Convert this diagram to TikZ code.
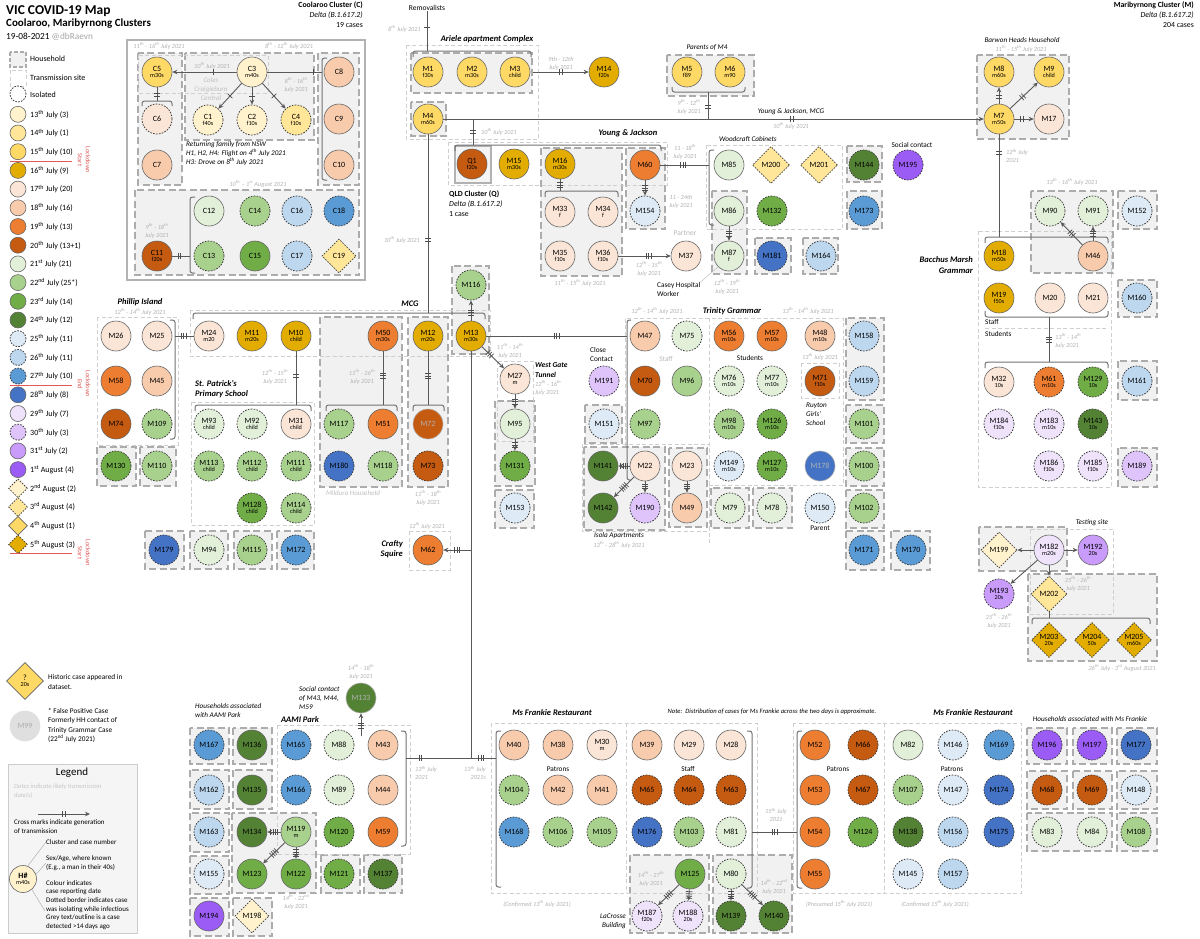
\documentclass[tikz,border=0pt]{standalone}
\usepackage{fontspec}
\setmainfont{Carlito}
\usetikzlibrary{shapes.geometric,arrows.meta,decorations.markings}
\definecolor{c13}{HTML}{FFF2CC}
\definecolor{c14}{HTML}{FFE699}
\definecolor{c15}{HTML}{FFD966}
\definecolor{c16}{HTML}{E2AC00}
\definecolor{c17}{HTML}{FBE5D6}
\definecolor{c18}{HTML}{F8CBAD}
\definecolor{c19}{HTML}{ED7D31}
\definecolor{c20}{HTML}{C55A11}
\definecolor{c21}{HTML}{E2F0D9}
\definecolor{c22}{HTML}{A9D18E}
\definecolor{c23}{HTML}{70AD47}
\definecolor{c24}{HTML}{548235}
\definecolor{c25}{HTML}{DEEBF7}
\definecolor{c26}{HTML}{BDD7EE}
\definecolor{c27}{HTML}{5B9BD5}
\definecolor{c28}{HTML}{4472C4}
\definecolor{c29}{HTML}{EFE3FB}
\definecolor{c30}{HTML}{DEC4FA}
\definecolor{c31}{HTML}{C99BFA}
\definecolor{a1}{HTML}{9B5CF6}
\definecolor{a2}{HTML}{FFF2CC}
\definecolor{a3}{HTML}{FFE699}
\definecolor{a4}{HTML}{FFD966}
\definecolor{a5}{HTML}{E2AC00}
\definecolor{lred}{HTML}{E05A5A}
\newcommand\fnA{\fontsize{8}{9}\selectfont}
\newcommand\fnB{\fontsize{6.2}{6.8}\selectfont}
\newcommand\fnC{\fontsize{6.3}{8}\selectfont\itshape}
\newcommand\xth{\textsuperscript{th}}
\newcommand\xst{\textsuperscript{st}}
\newcommand\xnd{\textsuperscript{nd}}
\newcommand\xrd{\textsuperscript{rd}}
\newcounter{txn}
\newcommand\Tx[3][]{\stepcounter{txn}\node[#1] (tx\arabic{txn}) at (#2) {#3};}
\newcommand\Cn[4][]{\def\tmpsub{#4}\ifx\tmpsub\empty\node[cs,#1] (#2) at (#3) {#2};\else\node[cs,#1] (#2) at (#3) {#2\\[-2.5pt]{\fnB #4}};\fi}
\newcommand\Dn[4][]{\def\tmpsub{#4}\ifx\tmpsub\empty\node[dm,#1] (#2) at (#3) {#2};\else\node[dm,#1] (#2) at (#3) {#2\\[-2.5pt]{\fnB #4}};\fi}
\newcommand\LG[4]{\node[cs,minimum size=16pt,#2] (lg#1) at (18,#3) {}; \node[lbl,anchor=west] (lt#1) at (30,#3) {#4};}
\newcommand\LD[4]{\node[dm,minimum size=19pt,#2] (lg#1) at (18,#3) {}; \node[lbl,anchor=west] (lt#1) at (30,#3) {#4};}
\begin{document}
\begin{tikzpicture}[x=1pt,y=-1pt,
  cs/.style={circle,draw=black!60,line width=0.6pt,minimum size=30pt,inner sep=0pt,align=center,font=\fnA},
  dm/.style={diamond,aspect=1,draw=black!60,line width=0.6pt,minimum size=37pt,inner sep=0pt,align=center,font=\fnA},
  iso/.style={dash pattern=on 1.6pt off 1.3pt,line width=0.8pt,draw=black!75},
  old/.style={text=gray!60,draw=gray!60},
  f13/.style={fill=c13},f14/.style={fill=c14},f15/.style={fill=c15},f16/.style={fill=c16},
  f17/.style={fill=c17},f18/.style={fill=c18},f19/.style={fill=c19},f20/.style={fill=c20},
  f21/.style={fill=c21},f22/.style={fill=c22},f23/.style={fill=c23},f24/.style={fill=c24},
  f25/.style={fill=c25},f26/.style={fill=c26},f27/.style={fill=c27},f28/.style={fill=c28},
  f29/.style={fill=c29},f30/.style={fill=c30},f31/.style={fill=c31},
  fa1/.style={fill=a1},fa2/.style={fill=a2},fa3/.style={fill=a3},fa4/.style={fill=a4},fa5/.style={fill=a5},
  hh/.style={draw=gray!65,fill=gray!11,line width=1.7pt,dash pattern=on 7pt off 3.5pt},
  site/.style={draw=gray!38,line width=0.9pt,dash pattern=on 4pt off 2.5pt},
  con/.style={draw=black!65,line width=0.9pt},
  arr/.style={con,-{Stealth[length=5pt,width=4.5pt]}},
  br/.style={draw=black!55,line width=1pt,rounded corners=2.5pt},
  tkl/.style={-,solid,draw=black!70,line width=0.7pt},
  g1/.style={postaction={decorate,decoration={markings,mark=at position #1 with {\draw[tkl] (0,-3.2) -- (0,3.2);}}}},
  g2/.style={postaction={decorate,decoration={markings,mark=at position #1 with {\draw[tkl] (-1.3,-3.2) -- (-1.3,3.2) (1.3,-3.2) -- (1.3,3.2);}}}},
  g3/.style={postaction={decorate,decoration={markings,mark=at position #1 with {\draw[tkl] (-2.4,-3.2) -- (-2.4,3.2) (0,-3.2) -- (0,3.2) (2.4,-3.2) -- (2.4,3.2);}}}},
  g4/.style={postaction={decorate,decoration={markings,mark=at position #1 with {\draw[tkl] (-3.3,-3.2) -- (-3.3,3.2) (-1.1,-3.2) -- (-1.1,3.2) (1.1,-3.2) -- (1.1,3.2) (3.3,-3.2) -- (3.3,3.2);}}}},
  dt/.style={font=\fnC,text=gray!60,align=center,inner sep=0pt},
  lbl/.style={font=\fontsize{8}{9.5}\selectfont,inner sep=0pt,align=left},
  ttl/.style={font=\bfseries\itshape\fontsize{8.5}{10.5}\selectfont,inner sep=0pt,align=center},
  itx/.style={font=\itshape\fontsize{7.2}{9}\selectfont,inner sep=0pt,align=center},
  sm/.style={font=\fontsize{7.3}{9}\selectfont,inner sep=0pt,align=center}]
\useasboundingbox (0,0) rectangle (1200,938);
\fill[white] (0,0) rectangle (1200,938);

% ---------- boxes ----------
\draw[draw=gray!60,line width=1.8pt] (127,40) rectangle (365,280);
\foreach \a/\b/\c/\d in {138/53/182/185,185/53/314/140,318/53/359/185,135/190/359/275,
 411/53/532/93,411/102/446/136,667/55/754/96,977/55/1069/139,541/148/622/276,626/148/665/229,
 712/191/747/274,847/146/882/182,847/191/882/229,755/238/791/274,803/238/838/274,
 1031/191/1113/273,1118/191/1157/229,1118/280/1157/317,1118/361/1157/400,1118/448/1157/487,
 979/527/1067/571,1028/574/1157/661,1027/728/1067/764,1073/728/1112/764,1117/728/1157/764,
 1027/771/1067/809,1073/771/1112/809,1117/771/1157/809,1027/813/1112/851,1117/813/1157/851,
 630/855/709/933,713/855/792/933,190/728/229/764,233/728/272/764,190/770/229/809,233/770/272/809,
 190/813/229/852,232/813/316/893,190/856/229/894,190/898/229/936,233/898/272/936,321/855/360/893,
 364/855/402/893,452/266/489/354,320/317/402/487,408/317/448/487,97/447/136/486,140/447/176/486,
 495/401/535/486,495/490/534/528,145/531/184/569,190/531/228/569,234/531/272/569,277/531/314/569,
 846/318/884/400,846/405/884/443,846/448/884/486,846/490/884/528,846/531/884/570,891/531/930/570,
 585/405/622/443,584/447/665/530,669/448/707/527,711/488/749/528,753/488/792/528}
 \draw[hh] (\a,\b) rectangle (\c,\d);
\draw[draw=gray!60,line width=1.5pt,fill=gray!8] (455,146) rectangle (491,183);
\foreach \a/\b/\c/\d in {138/55/268/93,406/45/538/139,448/142/667/185,706/145/842/229,
 978/231/1111/487,1030/529/1113/614,793/723/1021/893,491/723/757/893,277/725/410/854,
 190/310/490/356,97/317/178/445,497/361/533/441,409/531/450/570,191/402/314/525,
 801/363/839/398,582/444/709/531}
 \draw[site] (\a,\b) rectangle (\c,\d);
\draw[site] (625,446) -- (625,318) -- (843,318) -- (843,485) -- (709,485);
\draw[site] (709,318) -- (709,545);
\draw[site] (985,328) -- (1108,328);
\draw[site] (626,723) -- (626,893);
\draw[site] (884,723) -- (884,893);

% ---------- braces ----------
\draw[br] (142,106) -- (142,101) -- (172,101) -- (172,106);
\draw[br] (327,58) -- (322,58) -- (322,180) -- (327,180);
\draw[br] (195,197) -- (190,197) -- (190,273) -- (195,273);
\draw[br] (413,57) -- (413,51) -- (531,51) -- (531,57);
\draw[br] (455,151) -- (455,145) -- (661,145) -- (661,151);
\draw[br] (672,87) -- (672,92) -- (745,92) -- (745,87);
\draw[br] (985,243) -- (985,237) -- (1108,237) -- (1108,243);
\draw[br] (985,311) -- (985,317) -- (1108,317) -- (1108,311);
\draw[br] (985,368) -- (985,362) -- (1108,362) -- (1108,368);
\draw[br] (1032,624) -- (1032,618) -- (1150,618) -- (1150,624);
\draw[br] (545,197) -- (545,191) -- (618,191) -- (618,197);
\draw[br] (714,150) -- (709,150) -- (709,225) -- (714,225);
\draw[br] (193,319) -- (193,313) -- (485,313) -- (485,319);
\draw[br] (170,320) -- (175,320) -- (175,439) -- (170,439);
\draw[br] (195,411) -- (195,405) -- (311,405) -- (311,411);
\draw[br] (326,411) -- (326,405) -- (397,405) -- (397,411);
\draw[br] (413,411) -- (413,405) -- (444,405) -- (444,411);
\draw[br] (631,320) -- (627,320) -- (627,480) -- (631,480);
\draw[br] (401,731) -- (406,731) -- (406,846) -- (401,846);
\draw[br] (501,731) -- (496,731) -- (496,887) -- (501,887);
\draw[br] (747,731) -- (752,731) -- (752,888) -- (747,888);
\draw[br] (802,731) -- (797,731) -- (797,888) -- (802,888);

% ---------- legend (left) ----------
\Tx[anchor=west,inner sep=0,font=\bfseries\fontsize{13.5}{15}\selectfont]{6,11}{VIC COVID-19 Map}
\Tx[anchor=west,inner sep=0,font=\bfseries\fontsize{11}{13}\selectfont]{6,24}{Coolaroo, Maribyrnong Clusters}
\Tx[anchor=west,inner sep=0,font=\fontsize{9.3}{11}\selectfont]{6,37}{19-08-2021 \textcolor{gray!70}{@dbRaevn}}
\draw[hh,line width=1.3pt,dash pattern=on 4pt off 2pt] (10,52) rectangle (26,67);
\draw[site] (10,70) rectangle (26,86);
\node[cs,iso,fill=white,minimum size=16pt] (lgiso) at (18,94) {};
\Tx[lbl,anchor=west]{30,59}{Household}
\Tx[lbl,anchor=west]{30,78}{Transmission site}
\Tx[lbl,anchor=west]{30,95}{Isolated}
\LG{1}{f13}{114.3}{13\xth{} July (3)}
\LG{2}{f14}{133}{14\xth{} July (1)}
\LG{3}{f15}{151.7}{15\xth{} July (10)}
\LG{4}{f16}{170.4}{16\xth{} July (9)}
\LG{5}{f17}{189.1}{17\xth{} July (20)}
\LG{6}{f18}{207.8}{18\xth{} July (16)}
\LG{7}{f19}{226.5}{19\xth{} July (13)}
\LG{8}{f20}{245.2}{20\xth{} July (13+1)}
\LG{9}{f21}{263.9}{21\xst{} July (21)}
\LG{10}{f22}{282.6}{22\xnd{} July (25*)}
\LG{11}{f23}{301.3}{23\xrd{} July (14)}
\LG{12}{f24}{320}{24\xth{} July (12)}
\LG{13}{f25,iso}{338.7}{25\xth{} July (11)}
\LG{14}{f26,iso}{357.4}{26\xth{} July (11)}
\LG{15}{f27,iso}{376.1}{27\xth{} July (10)}
\LG{16}{f28}{394.8}{28\xth{} July (8)}
\LG{17}{f29}{413.5}{29\xth{} July (7)}
\LG{18}{f30,iso}{432.2}{30\xth{} July (3)}
\LG{19}{f31}{450.9}{31\xst{} July (2)}
\LG{20}{fa1}{469.6}{1\xst{} August (4)}
\LD{21}{fa2,iso}{488.3}{2\xnd{} August (2)}
\LD{22}{fa3,iso}{507}{3\xrd{} August (4)}
\LD{23}{fa4}{525.7}{4\xth{} August (1)}
\LD{24}{fa5,iso}{544.4}{5\xth{} August (3)}
\draw[lred,line width=0.8pt] (10,161) -- (72,161);
\draw[lred,line width=0.8pt] (10,385) -- (72,385);
\draw[lred,line width=0.8pt] (10,553) -- (72,553);
\Tx[rotate=-90,text=lred,font=\fontsize{6.5}{8}\selectfont,align=center,inner sep=0]{84,160}{Lockdown\\Start}
\Tx[rotate=-90,text=lred,font=\fontsize{6.5}{8}\selectfont,align=center,inner sep=0]{84,384}{Lockdown\\End}
\Tx[rotate=-90,text=lred,font=\fontsize{6.5}{8}\selectfont,align=center,inner sep=0]{84,553}{Lockdown\\Start}

\node[dm,fa4,minimum size=37pt] (hist) at (25,681) {?\\[-2.5pt]{\fnB 20s}};
\Tx[lbl,anchor=west,font=\fontsize{7.3}{9.5}\selectfont]{48,682}{Historic case appeared in\\dataset.}
\node[cs,fill=gray!25,draw=gray!25,text=gray!65] (m99) at (25,726) {M99};
\Tx[lbl,anchor=north west,font=\fontsize{7.3}{9.5}\selectfont]{48,708}{* False Positive Case\\Formerly HH contact of\\Trinity Grammar Case\\(22\xnd{} July 2021)}

\draw[draw=gray!40,fill=gray!8,line width=0.8pt] (8,764) rectangle (137,933);
\Tx[inner sep=0,font=\fontsize{11}{13}\selectfont]{72,773}{Legend}
\Tx[dt,anchor=north west,align=left,font=\fontsize{6.5}{8.5}\selectfont\itshape,text=gray!45]{14,784}{Dates indicate likely transmission\\date(s)}
\coordinate (la1) at (38,814);
\coordinate (la2) at (90,814);
\draw[arr,g2=0.5] (la1) -- (la2);
\Tx[lbl,anchor=north west,font=\fontsize{7}{9}\selectfont]{14,819}{Cross marks indicate generation\\of transmission}
\node[cs,f13,minimum size=27pt] (hx) at (23,879) {\textbf{H\#}\\[-2.5pt]{\fnB m40s}};
\node[lbl,anchor=west,font=\fontsize{7}{8.7}\selectfont] (lgA) at (46,842) {Cluster and case number};
\node[lbl,anchor=west,font=\fontsize{7}{8.7}\selectfont] (lgB) at (46,863) {Sex/Age, where known\\(E.g., a man in their 40s)};
\node[lbl,anchor=north west,font=\fontsize{7}{8.7}\selectfont] (lgC) at (46,880) {Colour indicates\\case reporting date\\Dotted border indicates case\\was isolating while infectious\\Grey text/outline is a case\\detected >14 days ago};
\coordinate (lcx) at (45,911);
\draw[gray!60,line width=0.5pt] (hx.70) -- (lgA.west);
\draw[gray!60,line width=0.5pt] (hx.20) -- (lgB.west);
\draw[gray!60,line width=0.5pt] (hx.-50) -- (lcx);

% ---------- Coolaroo cluster ----------
\Tx[anchor=north east,align=right,inner sep=0,font=\fontsize{7.8}{10}\selectfont]{363,2}{\textbf{Coolaroo Cluster (C)}\\\textit{Delta (B.1.617.2)}\\19 cases}
\Tx[dt]{159,46}{11\xth{} - 16\xth{} July 2021}
\Tx[dt]{289,46}{8\xth{} - 12\xth{} July 2021}
\Tx[dt]{212,66}{10\xth{} July 2021}
\Tx[dt]{296,85}{8\xth{} - 16\xth{}\\July 2021}
\Tx[dt,font=\fontsize{7}{9}\selectfont\itshape,text=gray!50]{211,89}{Coles\\Craigieburn\\Central}
\Tx[anchor=north west,align=left,inner sep=0,font=\itshape\fontsize{7.2}{9}\selectfont]{186,141}{Returning family from NSW\\H1, H2, H4: Flight on 4\xth{} July 2021\\H3: Drove on 8\xth{} July 2021}
\Tx[dt]{258,184}{10\xth{} – 1\xst{} August 2021}
\Tx[dt]{157,231}{9\xth{} - 18\xth{}\\July 2021}
\Cn[f13]{C3}{252,72}{m40s}
\Cn[f15]{C5}{157,72}{m30s}
\Cn[f13,iso]{C1}{208,120}{f40s}
\Cn[f13,iso]{C2}{252,120}{f10s}
\Cn[f14,iso]{C4}{296,120}{f10s}
\Cn[f17,iso]{C6}{157,119}{}
\Cn[f18]{C7}{157,165}{}
\Cn[f18]{C8}{339,72}{}
\Cn[f18]{C9}{339,119}{}
\Cn[f18]{C10}{339,165}{}
\Cn[f20]{C11}{157,256}{f20s}
\Cn[f21]{C12}{209,211}{}
\Cn[f22,iso]{C14}{255,211}{}
\Cn[f26,iso]{C16}{297,211}{}
\Cn[f27,iso]{C18}{339,211}{}
\Cn[f22,iso]{C13}{209,256}{}
\Cn[f23]{C15}{255,256}{}
\Cn[f26,iso]{C17}{297,256}{}
\Dn[fa3,iso,minimum size=34pt]{C19}{339,256}{}
\coordinate (bC8) at (322,72);
\coordinate (bC6) at (157,101);
\coordinate (bC12) at (190,256);
\draw[arr,g1=0.37] (C3) -- (C5);
\draw[con,g1=0.84] (C3) -- (bC8);
\draw[arr,g1=0.5] (C3) -- (C1);
\draw[arr,g1=0.5] (C3) -- (C2);
\draw[arr,g1=0.5] (C3) -- (C4);
\draw[con,g2=0.55] (C5) -- (bC6);
\draw[con,g2=0.4] (C11) -- (bC12);

% ---------- Ariele / top ----------
\node[sm,font=\fontsize{7.5}{9}\selectfont] (rem) at (427,8) {Removalists};
\coordinate (bAr) at (427,51);
\draw[con,g1=0.4] (rem) -- (bAr);
\Tx[dt,anchor=east]{421,29}{8\xth{} July 2021}
\Tx[ttl]{487,39}{Ariele apartment Complex}
\Cn[f15]{M1}{428,72}{f30s}
\Cn[f15]{M2}{472,72}{m30s}
\Cn[f15]{M3}{515,72}{child}
\Cn[f15]{M4}{428,119}{m60s}
\Cn[f16]{M14}{604,72}{f20s}
\coordinate (hhM3) at (533,72);
\draw[arr,g2=0.5] (hhM3) -- (M14);
\Tx[dt]{561,64}{9th - 12th\\July 2021}
\Tx[itx]{707,47}{Parents of M4}
\Cn[f15]{M5}{687,72}{f89}
\Cn[f15]{M6}{730,72}{m90}
\Tx[dt]{689,107}{9\xth{} - 12\xth{}\\July 2021}
\Tx[itx]{791,112}{Young \& Jackson, MCG}
\Tx[dt]{791,126}{10\xth{} July 2021}
\Tx[itx]{1022,40}{Barwon Heads Household}
\Tx[dt]{1021,49}{11\xth{} - 15\xth{} July 2021}
\Tx[anchor=north east,align=right,inner sep=0,font=\fontsize{7.8}{10}\selectfont]{1194,2}{\textbf{Maribyrnong Cluster (M)}\\\textit{Delta (B.1.617.2)}\\204 cases}
\Cn[f15]{M8}{999,72}{m60s}
\Cn[f15]{M9}{1049,72}{child}
\Cn[f15]{M7}{999,119}{m50s}
\Cn[f17]{M17}{1049,119}{}
\draw[arr,g2=0.645] (M4) -- (M7);
\coordinate (pb) at (708,92);
\coordinate (pl) at (708,119);
\draw[con,g2=0.55] (pb) -- (pl);
\draw[arr,g2=0.4] (M7) -- (M8);
\draw[arr,g2=0.45] (M7) -- (M9);
\draw[arr,g2=0.4] (M7) -- (M17);

% ---------- Young & Jackson ----------
\coordinate (yj) at (473,119);
\coordinate (yjb) at (473,145);
\draw[con,g2=0.5] (yj) -- (yjb);
\Tx[dt]{499,132}{10\xth{} July 2021}
\Tx[ttl]{628,133}{Young \& Jackson}
\Cn[f20]{Q1}{472,164}{f20s}
\Cn[f16]{M15}{514,164}{m30s}
\Cn[f16]{M16}{560,164}{m30s}
\Cn[f19]{M60}{645,165}{}
\Cn[f25,iso]{M154}{645,211}{}
\Cn[f17]{M33}{560,212}{f}
\Cn[f17]{M34}{603,212}{f}
\Cn[f17]{M35}{560,256}{f10s}
\Cn[f17]{M36}{603,256}{f10s}
\Cn[f17]{M37}{686,256}{}
\Tx[anchor=north west,align=left,inner sep=0,font=\fontsize{7.8}{10}\selectfont]{449,191}{\textbf{QLD Cluster (Q)}\\\textit{Delta (B.1.617.2)}\\1 case}
\coordinate (b16) at (560,191);
\draw[con,g3=0.5] (M16) -- (b16);
\draw[arr,g3=0.58] (M36) -- (M37);
\Tx[dt]{580,283}{11\xth{} - 15\xth{} July 2021}
\Tx[dt]{649,269}{12\xth{} - 15\xth{}\\July 2021}
\Tx[sm,text=gray!55,font=\fontsize{7.5}{9}\selectfont]{685,233}{Partner}
\draw[arr,g3=0.5] (M60) -- (M154);
\Tx[dt]{681,202}{11 - 24th\\July 2021}
\coordinate (bwc) at (709,165);
\draw[con,g3=0.47] (M60) -- (bwc);
\Tx[dt]{685,152}{11 - 18\xth{}\\July 2021}

% ---------- Woodcraft ----------
\Tx[itx]{748,139}{Woodcraft Cabinets}
\Cn[f21]{M85}{729,165}{}
\Dn[fa3,iso]{M200}{771,165}{}
\Dn[fa3,iso]{M201}{819,165}{}
\Cn[f24,iso]{M144}{864,165}{}
\Cn[fa1,iso]{M195}{908,165}{}
\Tx[sm]{912,145}{Social contact}
\Cn[f21]{M86}{729,211}{}
\Cn[f23,iso]{M132}{772,211}{}
\Cn[f27,iso]{M173}{864,211}{}
\Cn[f21]{M87}{729,256}{f}
\Cn[f28,iso]{M181}{772,256}{}
\Cn[f26,iso]{M164}{821,256}{}
\draw[arr,g3=0.5] (M86) -- (M87);
\node[sm,anchor=north west,align=left] (casey) at (657,282) {Casey Hospital\\Worker};
\draw[gray!50,line width=0.5pt] (casey.north east) -- (M87.south west);
\Tx[dt]{727,287}{12\xth{} - 19\xth{}\\July 2021}

% ---------- Bacchus Marsh ----------
\coordinate (bbm) at (999,237);
\draw[con,g2=0.18] (M7) -- (bbm);
\Tx[dt,anchor=west,align=left]{1006,156}{12\xth{} July\\2021}
\Tx[dt]{1072,182}{13\xth{} - 16\xth{} July 2021}
\Tx[ttl,anchor=east,align=right]{973,265}{Bacchus Marsh\\Grammar}
\Cn[f21,iso]{M90}{1050,211}{}
\Cn[f21,iso]{M91}{1093,211}{}
\Cn[f25,iso]{M152}{1137,211}{}
\Cn[f16]{M18}{999,256}{m50s}
\Cn[f18]{M46}{1093,256}{}
\Cn[f16]{M19}{999,298}{f50s}
\Cn[f17]{M20}{1050,298}{}
\Cn[f17]{M21}{1093,298}{}
\Cn[f26,iso]{M160}{1137,298}{}
\draw[arr,g3=0.5] (M46) -- (M90);
\draw[arr,g3=0.5] (M46) -- (M91);
\Tx[sm,anchor=west]{985,322}{Staff}
\Tx[sm,anchor=west]{985,334}{Students}
\coordinate (sb1) at (1049,317);
\coordinate (sb2) at (1049,362);
\draw[con,g3=0.5] (sb1) -- (sb2);
\Tx[dt,anchor=west,align=left]{1055,341}{13\xth{} - 14\xth{}\\July 2021}
\Cn[f17]{M32}{999,382}{10s}
\Cn[f19,iso]{M61}{1049,382}{m10s}
\Cn[f23,iso]{M129}{1093,382}{10s}
\Cn[f26,iso]{M161}{1137,381}{}
\Cn[f29,iso]{M184}{999,424}{f10s}
\Cn[f29,iso]{M183}{1049,424}{m10s}
\Cn[f24,iso]{M143}{1093,424}{10s}
\Cn[f29,iso]{M186}{1049,466}{f10s}
\Cn[f29,iso]{M185}{1093,466}{f10s}
\Cn[f30,iso]{M189}{1137,466}{}

% ---------- Testing site ----------
\Tx[itx]{1092,523}{Testing site}
\Dn[fa2,iso,minimum size=36pt]{M199}{999,550}{}
\Cn[f29]{M182}{1049,550}{m20s}
\Cn[f31]{M192}{1093,550}{20s}
\Cn[f31,iso]{M193}{999,594}{20s}
\Dn[fa3,iso,minimum size=36pt]{M202}{1049,594}{}
\Dn[fa5,iso,minimum size=35pt]{M203}{1049,640}{20s}
\Dn[fa5,iso,minimum size=35pt]{M204}{1092,640}{50s}
\Dn[fa5,iso,minimum size=35pt]{M205}{1134,640}{m60s}
\draw[arr] (M182) -- (M199);
\draw[arr] (M182) -- (M192);
\draw[arr] (M182) -- (M193);
\draw[arr] (M182) -- (M202);
\coordinate (b202) at (1049,618);
\draw[con] (M202) -- (b202);
\Tx[dt]{1078,584}{25\xth{} - 26\xth{}\\July 2021}
\Tx[dt]{999,621}{25\xth{} - 26\xth{}\\July 2021}
\Tx[dt,anchor=east]{1156,668}{26\xth{} July - 3\xrd{} August 2021}

% ---------- Ms Frankie households ----------
\Tx[itx]{1090,719}{Households associated with Ms Frankie}
\Cn[fa1,iso]{M196}{1047,745}{}
\Cn[fa1,iso]{M197}{1092,745}{}
\Cn[f28,iso]{M177}{1136,745}{}
\Cn[f20,iso]{M68}{1047,790}{}
\Cn[f20,iso]{M69}{1092,790}{}
\Cn[f25,iso]{M148}{1136,790}{}
\Cn[f21,iso]{M83}{1047,832}{}
\Cn[f21,iso]{M84}{1092,832}{}
\Cn[f22,iso]{M108}{1136,832}{}

% ---------- Ms Frankie right ----------
\Tx[ttl]{973,713}{Ms Frankie Restaurant}
\Cn[f19]{M52}{815,745}{}
\Cn[f20,iso]{M66}{863,745}{}
\Cn[f19]{M53}{815,790}{}
\Cn[f20,iso]{M67}{863,790}{}
\Cn[f19]{M54}{815,832}{}
\Cn[f23,iso]{M124}{863,832}{}
\Cn[f19]{M55}{815,874}{}
\Tx[sm]{838,769}{Patrons}
\Cn[f21]{M82}{908,745}{}
\Cn[f25,iso]{M146}{953,745}{}
\Cn[f27,iso]{M169}{999,745}{}
\Cn[f22,iso]{M107}{908,790}{}
\Cn[f25,iso]{M147}{953,790}{}
\Cn[f28,iso]{M174}{999,790}{}
\Cn[f24,iso]{M138}{908,832}{}
\Cn[f26,iso]{M156}{953,832}{}
\Cn[f28,iso]{M175}{999,832}{}
\Cn[f25,iso]{M145}{908,874}{}
\Cn[f26,iso]{M157}{953,874}{}
\Tx[sm]{952,769}{Patrons}
\Tx[dt]{839,904}{(Presumed 15\xth{} July 2021)}
\Tx[dt]{935,904}{(Confirmed 15\xth{} July 2021)}

% ---------- Ms Frankie left ----------
\Tx[ttl]{552,713}{Ms Frankie Restaurant}
\Tx[itx,font=\itshape\fontsize{6.6}{8}\selectfont]{772,712}{Note:\ \ Distribution of cases for Ms Frankie across the two days is approximate.}
\Cn[f18]{M40}{514,745}{}
\Cn[f18]{M38}{558,745}{}
\Cn[f17]{M30}{602,745}{m}
\Cn[f22,iso]{M104}{514,790}{}
\Cn[f18]{M42}{558,790}{}
\Cn[f18]{M41}{602,790}{}
\Cn[f27,iso]{M168}{514,832}{}
\Cn[f22,iso]{M106}{558,832}{}
\Cn[f22,iso]{M105}{602,832}{}
\Tx[sm]{558,769}{Patrons}
\Cn[f18]{M39}{647,745}{}
\Cn[f17]{M29}{689,745}{}
\Cn[f17]{M28}{731,745}{}
\Cn[f20,iso]{M65}{647,790}{}
\Cn[f20,iso]{M64}{689,790}{}
\Cn[f20,iso]{M63}{731,790}{}
\Cn[f28,iso]{M176}{647,832}{}
\Cn[f22,iso]{M103}{689,832}{}
\Cn[f21,iso]{M81}{731,832}{}
\Tx[sm]{688,769}{Staff}
\coordinate (bfl2) at (752,832);
\coordinate (bfr) at (797,832);
\draw[con,g3=0.5] (bfl2) -- (bfr);
\Tx[dt]{776,815}{15\xth{} July\\2021}
\Tx[dt]{537,904}{(Confirmed 13\xth{} July 2021)}
\Cn[f23]{M125}{690,874}{}
\Cn[f29,iso]{M187}{647,916}{f20s}
\Cn[f29,iso]{M188}{688,916}{20s}
\Cn[f21,iso]{M80}{731,874}{}
\Cn[f24,iso]{M139}{731,916}{}
\Cn[f24,iso]{M140}{774,916}{}
\draw[arr,g4=0.5] (M125) -- (M187);
\draw[arr,g4=0.5] (M125) -- (M188);
\draw[arr,g4=0.5] (M80) -- (M139);
\draw[arr,g4=0.5] (M80) -- (M140);
\Tx[dt]{651,879}{14\xth{} - 27\xth{}\\July 2021}
\Tx[dt]{774,887}{14\xth{} - 22\xnd{}\\July 2021}
\Tx[itx,anchor=east,align=right]{626,921}{LaCrosse\\Building}

% ---------- AAMI Park ----------
\Tx[itx,anchor=west,align=left]{195,711}{Households associated\\with AAMI Park}
\Tx[ttl]{300,720}{AAMI Park}
\Tx[itx,anchor=west,align=left]{299,698}{Social contact\\of M43, M44,\\M59}
\Tx[dt]{361,672}{14\xth{} - 18\xth{}\\July 2021}
\Cn[f24,old]{M133}{361,698}{}
\Cn[f27,iso]{M167}{209,745}{}
\Cn[f24]{M136}{252,745}{}
\Cn[f27,iso]{M165}{296,745}{}
\Cn[f21,iso]{M88}{339,745}{}
\Cn[f18]{M43}{383,745}{}
\Cn[f26,iso]{M162}{209,790}{}
\Cn[f24]{M135}{252,790}{}
\Cn[f27,iso]{M166}{296,790}{}
\Cn[f21,iso]{M89}{339,790}{}
\Cn[f18]{M44}{383,790}{}
\Cn[f26,iso]{M163}{209,832}{}
\Cn[f24]{M134}{252,832}{}
\Cn[f22]{M119}{296,832}{m}
\Cn[f23,iso]{M120}{339,832}{}
\Cn[f19]{M59}{383,832}{}
\Cn[f25,iso]{M155}{209,874}{}
\Cn[f23]{M123}{252,874}{}
\Cn[f23]{M122}{296,874}{}
\Cn[f23,iso]{M121}{339,874}{}
\Cn[f24,iso]{M137}{383,874}{}
\Cn[fa1]{M194}{209,916}{}
\Dn[fa2,iso,minimum size=34pt]{M198}{252,916}{}
\draw[arr,g4=0.5] (M119) -- (M134);
\draw[arr,g4=0.5] (M119) -- (M123);
\draw[arr,g4=0.5] (M119) -- (M122);
\Tx[dt]{296,902}{14\xth{} - 22\xnd{}\\July 2021}
\coordinate (am) at (361,736);
\draw[arr,g3=0.45] (am) -- (M133);
\coordinate (bam) at (406,758);
\coordinate (mv) at (471,758);
\coordinate (bfl) at (496,758);
\draw[con,g2=0.22] (bam) -- (mv);
\draw[con,g3=0.4] (mv) -- (bfl);
\Tx[dt,anchor=west,align=left]{415,773}{13\xth{} July\\2021}
\Tx[dt,anchor=east,align=right]{486,773}{13\xth{} July\\2021s}

% ---------- MCG ----------
\coordinate (mcgb) at (428,313);
\draw[con,g2=0.59] (M4) -- (mcgb);
\Tx[dt,anchor=east]{420,240}{10\xth{} July 2021}
\Tx[ttl]{410,304}{MCG}
\Cn[f17]{M24}{209,336}{m20}
\Cn[f16]{M11}{252,336}{m20s}
\Cn[f16]{M10}{296,336}{child}
\Cn[f19]{M50}{383,336}{m30s}
\Cn[f16]{M12}{428,336}{m20s}
\Cn[f16]{M13}{471,336}{m30s}
\Cn[f22,iso]{M116}{471,285}{}
\Cn[f22,iso]{M117}{339,424}{}
\Cn[f19]{M51}{383,424}{}
\Cn[f28,iso]{M180}{339,466}{}
\Cn[f22,iso]{M118}{383,466}{}
\Cn[f20,old]{M72}{428,424}{}
\Cn[f20,iso]{M73}{428,466}{}
\Tx[dt,font=\fontsize{7}{8}\selectfont\itshape,text=gray!50]{353,493}{Mildura Household}
\Tx[dt]{428,498}{11\xth{} - 18\xth{}\\July 2021}
\coordinate (b50) at (383,405);
\coordinate (b12) at (428,405);
\draw[con,g3=0.45] (M50) -- (b50);
\draw[con,g3=0.46] (M12) -- (b12);
\Tx[dt]{362,377}{11\xth{} - 26\xth{}\\July 2021}
\draw[arr,g3=0.4] (M13) -- (M116);
\coordinate (btr) at (627,336);
\draw[con,g3=0.5] (M13) -- (btr);
\Cn[f17]{M27}{515,379}{m}
\Cn[f21]{M95}{515,424}{}
\Cn[f23,iso]{M131}{515,466}{}
\Cn[f25,iso]{M153}{515,508}{}
\draw[arr,g3=0.35] (M13) -- (M27);
\draw[arr,g3=0.5] (M27) -- (M95);
\draw[arr,g3=0.5] (M95) -- (M131);
\Tx[dt]{510,351}{11\xth{} - 14\xth{}\\July 2021}
\Tx[ttl,anchor=west,align=left,font=\bfseries\itshape\fontsize{7.5}{9.5}\selectfont]{535,370}{West Gate\\Tunnel}
\Tx[dt,anchor=west,align=left]{535,388}{12\xth{} - 16\xth{}\\July 2021}
\draw[con] (M13) -- (mv);
\Cn[f19]{M62}{428,550}{}
\coordinate (mcs) at (471,550);
\draw[arr,g3=0.5] (mcs) -- (M62);
\Tx[dt]{427,526}{12\xth{} July 2021}
\Tx[ttl,anchor=east,align=right]{403,549}{Crafty\\Squire}

% ---------- Phillip Island ----------
\Tx[ttl]{140,302}{Phillip Island}
\Tx[dt]{140,312}{12\xth{} - 14\xth{} July 2021}
\Cn[f17]{M26}{116,336}{}
\Cn[f17]{M25}{157,336}{}
\Cn[f19]{M58}{116,381}{}
\Cn[f18]{M45}{157,381}{}
\Cn[f20]{M74}{116,424}{}
\Cn[f22,iso]{M109}{157,424}{}
\Cn[f23,iso]{M130}{116,466}{}
\Cn[f22,iso]{M110}{157,466}{}
\coordinate (bpi) at (175,336);
\draw[con,g3=0.47] (bpi) -- (M24);

% ---------- St Patrick's ----------
\Tx[ttl,anchor=west,align=left]{195,389}{St. Patrick’s\\Primary School}
\coordinate (bsp) at (296,405);
\draw[con,g2=0.46] (M10) -- (bsp);
\Tx[dt]{275,377}{12\xth{} - 15\xth{}\\July 2021}
\Cn[f21,iso]{M93}{209,424}{child}
\Cn[f21,iso]{M92}{252,424}{child}
\Cn[f17]{M31}{296,424}{child}
\Cn[f22,iso]{M113}{209,466}{child}
\Cn[f22,iso]{M112}{252,466}{child}
\Cn[f22,iso]{M111}{296,466}{child}
\Cn[f23,iso]{M128}{252,508}{child}
\Cn[f22,iso]{M114}{296,508}{child}
\Cn[f28,iso]{M179}{164,550}{}
\Cn[f21,iso]{M94}{209,550}{}
\Cn[f22,iso]{M115}{252,550}{}
\Cn[f27,iso]{M172}{296,550}{}

% ---------- Trinity Grammar ----------
\Tx[ttl]{732,311}{Trinity Grammar}
\Tx[dt]{657,311}{12\xth{} - 14\xth{} July 2021}
\Tx[dt]{808,311}{13\xth{} - 14\xth{} July 2021}
\Cn[f18]{M47}{645,336}{}
\Cn[f21,iso]{M75}{687,336}{}
\Cn[f20]{M70}{645,381}{}
\Cn[f22]{M96}{687,381}{}
\Cn[f22,iso]{M97}{645,424}{}
\Tx[sm,text=gray!55]{666,359}{Staff}
\Cn[f19]{M56}{729,336}{m10s}
\Cn[f19]{M57}{772,336}{m10s}
\Cn[f18]{M48}{820,336}{m10s}
\Tx[sm]{750,358}{Students}
\Tx[dt]{820,357}{13\xth{} July 2021}
\Cn[f21,iso]{M76}{729,381}{m10s}
\Cn[f21,iso]{M77}{772,381}{m10s}
\Cn[f20]{M71}{820,381}{f10s}
\Tx[itx,anchor=west,align=left]{806,414}{Ruyton\\Girls’\\School}
\Cn[f22,iso]{M98}{729,424}{m10s}
\Cn[f23,iso]{M126}{772,424}{m10s}
\Cn[f25,iso]{M149}{729,466}{m10s}
\Cn[f23,iso]{M127}{772,466}{m10s}
\Cn[f28,old]{M178}{820,466}{}
\Cn[f21,iso]{M79}{730,508}{}
\Cn[f21,iso]{M78}{772,508}{}
\Cn[f25,iso]{M150}{820,508}{}
\Tx[sm]{820,528}{Parent}
\Cn[f26,iso]{M158}{864,336}{}
\Cn[f26,iso]{M159}{864,381}{}
\Cn[f22,iso]{M101}{864,424}{}
\Cn[f22,iso]{M100}{864,466}{}
\Cn[f22,iso]{M102}{864,508}{}
\Cn[f27,iso]{M171}{864,550}{}
\Cn[f27,iso]{M170}{911,550}{}
\Tx[sm,anchor=west,align=left]{590,354}{Close\\Contact}
\Cn[f30,iso]{M191}{604,381}{}
\Cn[f25,iso]{M151}{604,424}{}
\Cn[f24]{M141}{603,466}{}
\Cn[f17]{M22}{645,466}{}
\Cn[f24]{M142}{603,508}{}
\Cn[f30,iso]{M190}{645,508}{}
\Cn[f17]{M23}{687,466}{}
\Cn[f18]{M49}{687,508}{}
\draw[arr,g4=0.5] (M22) -- (M141);
\draw[arr,g4=0.5] (M22) -- (M142);
\draw[arr,g3=0.45] (M22) -- (M190);
\draw[arr,g3=0.45] (M23) -- (M49);
\Tx[itx]{619,536}{Isola Apartments}
\Tx[dt]{619,545}{13\xth{} - 28\xth{} July 2021}
\end{tikzpicture}
\end{document}
